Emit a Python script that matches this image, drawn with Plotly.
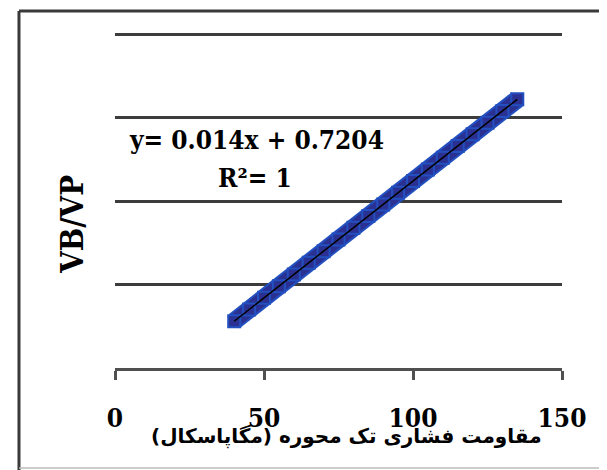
import plotly.graph_objects as go

# data (points lie exactly on the trendline, R^2 = 1)
x_vals = [40, 45, 50, 55, 60, 65, 70, 75, 80, 85, 90, 95, 100, 105, 110, 115, 120, 125, 130, 135]
y_vals = [1.2804, 1.3504, 1.4204, 1.4904, 1.5604, 1.6304, 1.7004, 1.7704, 1.8404, 1.9104,
          1.9804, 2.0504, 2.1204, 2.1904, 2.2604, 2.3304, 2.4004, 2.4704, 2.5404, 2.6104]
trend_x = [40, 135]
trend_y = [1.2804, 2.6104]
x_ticks = [0, 50, 100, 150]
y_ticks = [1, 1.5, 2, 2.5, 3]
equation_text = "y= 0.014x + 0.7204"
r2_text = "R²= 1"
x_title = "مقاومت فشاری تک محوره (مگاپاسکال)"
y_title = "VB/VP"

SERIF = "DejaVu Serif Condensed"

fig = go.Figure()
fig.add_trace(go.Scatter(
    x=x_vals, y=y_vals, mode="lines",
    line=dict(color="#2350c0", width=18),
    showlegend=False, hoverinfo="skip"))
fig.add_trace(go.Scatter(
    x=x_vals, y=y_vals, mode="lines+markers",
    line=dict(color="#2a3192", width=14),
    marker=dict(symbol="square", size=12, color="#2a3192",
                line=dict(color="#2350c0", width=2)),
    showlegend=False, hoverinfo="skip"))
fig.add_trace(go.Scatter(
    x=trend_x, y=trend_y, mode="lines",
    line=dict(color="black", width=1.5),
    showlegend=False, hoverinfo="skip"))

fig.update_layout(
    width=607, height=470,
    margin=dict(l=107, r=53, t=23, b=110),
    paper_bgcolor="white", plot_bgcolor="white",
    xaxis=dict(range=[0, 150], tickvals=x_ticks, ticktext=[str(v) for v in x_ticks],
               showgrid=False, zeroline=False, showline=True, linecolor="#505050",
               linewidth=2.5, ticks="outside", ticklen=9, tickwidth=2.5, tickcolor="#505050",
               ticklabelstandoff=16,
               tickfont=dict(family=SERIF, size=26, color="black", weight="bold")),
    yaxis=dict(range=[1, 3.02], tickvals=y_ticks, showticklabels=False,
               showgrid=True, gridcolor="#3c3c3c", gridwidth=2.5,
               zeroline=False, showline=False, ticks=""),
    font=dict(family=SERIF, color="black"),
)

# outer border
fig.add_shape(type="line", xref="paper", yref="paper", x0=-0.2148, x1=1.2, y0=1.0593, y1=1.0593,
              line=dict(color="#3a3a3a", width=3))
fig.add_shape(type="line", xref="paper", yref="paper", x0=-0.2148, x1=-0.2148, y0=-0.31, y1=1.0593,
              line=dict(color="#3a3a3a", width=3))
fig.add_shape(type="line", xref="paper", yref="paper", x0=-0.2148, x1=1.2, y0=-0.2967, y1=-0.2967,
              line=dict(color="#bbbbbb", width=1.5))

# equation and R^2
fig.add_annotation(x=47.6, y=2.365, xref="x", yref="y", text=equation_text,
                   xanchor="center", yanchor="middle",
                   showarrow=False, font=dict(family=SERIF, size=26, color="black", weight="bold"))
fig.add_annotation(x=47.0, y=2.138, xref="x", yref="y", text=r2_text,
                   xanchor="center", yanchor="middle",
                   showarrow=False, font=dict(family=SERIF, size=26, color="black", weight="bold"))
fig.add_annotation(x=-0.096, y=0.425, xref="paper", yref="paper", text=y_title,
                   xanchor="center", yanchor="middle",
                   textangle=-90, showarrow=False,
                   font=dict(family=SERIF, size=31, color="black", weight="bold"))
fig.add_annotation(x=0.517, y=-0.2047, xref="paper", yref="paper", text=x_title,
                   xanchor="center", yanchor="middle",
                   showarrow=False, font=dict(family="DejaVu Sans", size=20, color="black", weight="bold"))

fig.write_html("out.html")
